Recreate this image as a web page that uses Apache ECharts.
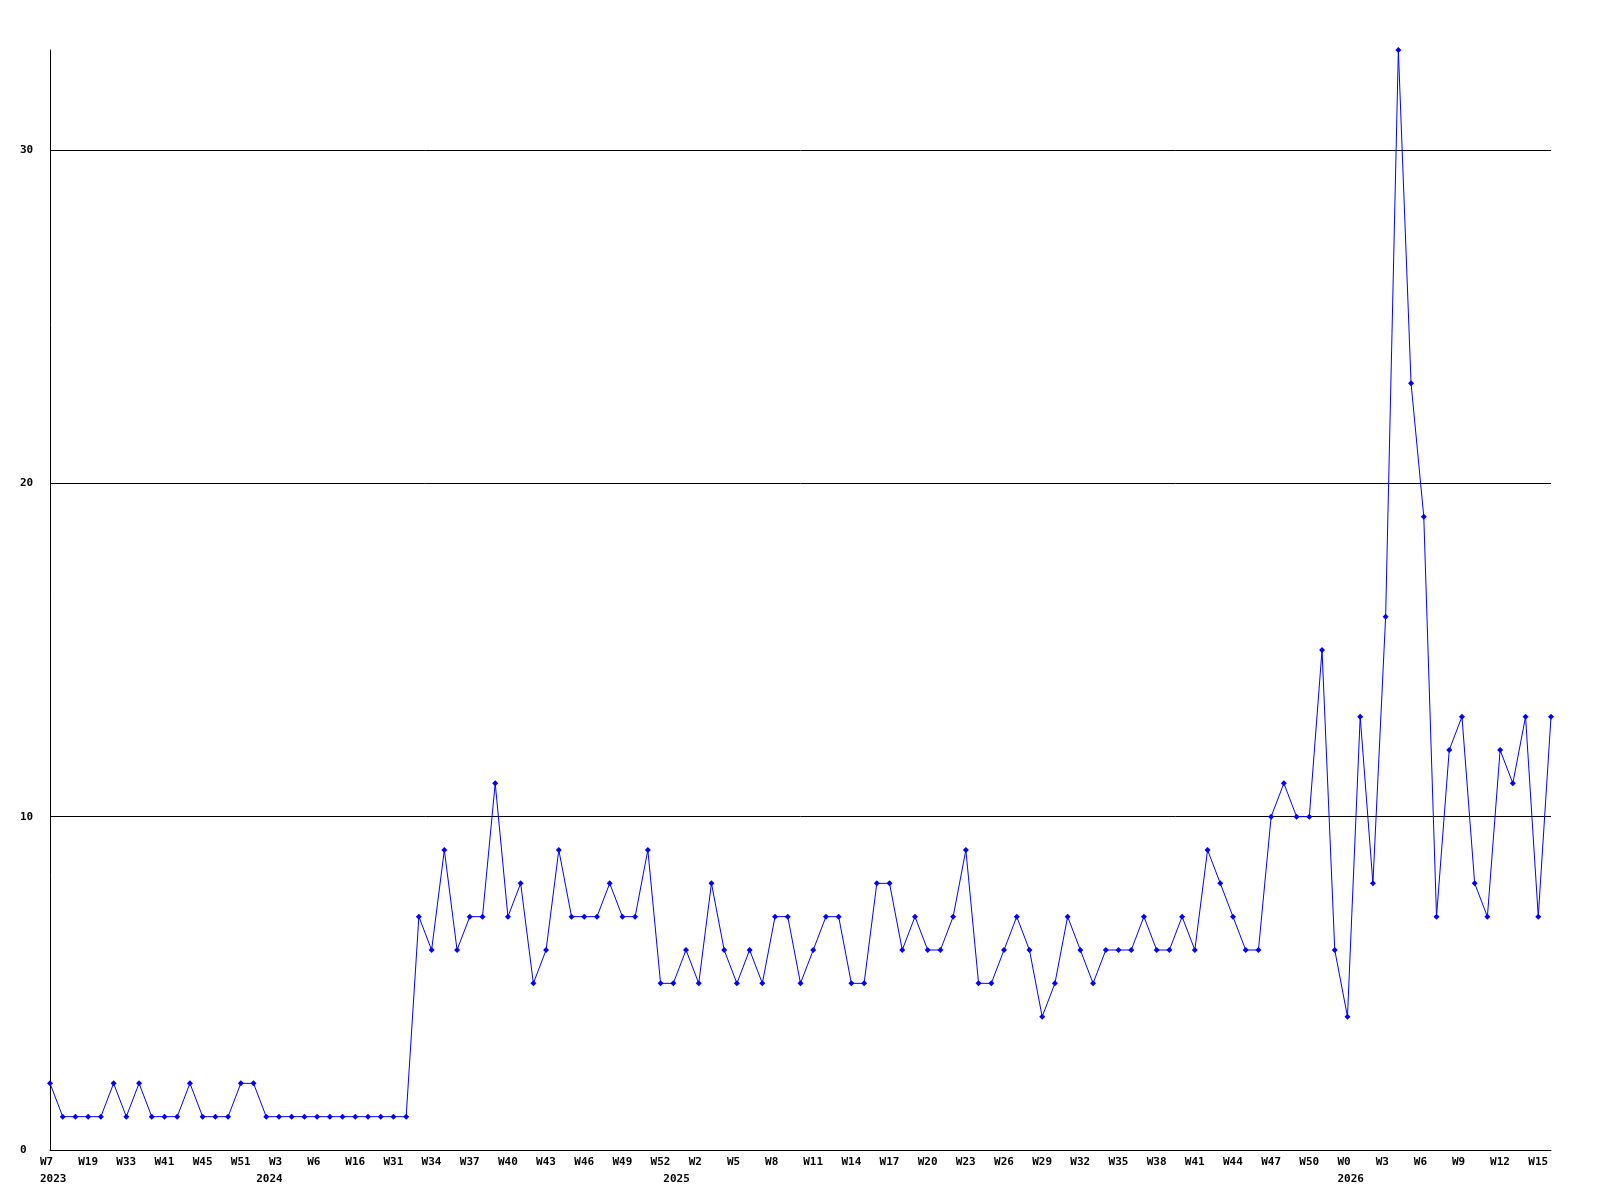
<!DOCTYPE html>
<html>
<head>
<meta charset="utf-8">
<script src="https://cdn.jsdelivr.net/npm/echarts@6/dist/echarts.min.js"></script>
<style>html,body{margin:0;padding:0;background:#fff}#c{width:1600px;height:1200px}</style>
</head>
<body>
<div id="c"></div>
<script>
// Week label of each data point
var weeks = [
  'W7','W10','W14','W19','W25','W29','W33','W36','W39','W41','W43','W44','W45','W47','W49','W51','W52',
  'W2','W3','W4','W5','W6','W9','W12','W16','W22','W27','W31','W32','W33','W34','W35','W36','W37','W38','W39','W40',
  'W41','W42','W43','W44','W45','W46','W47','W48','W49','W50','W51','W52',
  'W0','W1','W2','W3','W4','W5','W6','W7','W8','W9','W10','W11','W12','W13','W14','W15','W16','W17','W18','W19',
  'W20','W21','W22','W23','W24','W25','W26','W27','W28','W29','W30','W31','W32','W33','W34','W35','W36','W37',
  'W38','W39','W40','W41','W42','W43','W44','W45','W46','W47','W48','W49','W50','W51','W52',
  'W0','W1','W2','W3','W4','W5','W6','W7','W8','W9','W10','W11','W12','W13','W14','W15','W16'
];
// Index of the first point of each year, and its name
var yearStartIndex = [0, 17, 49, 102];
var yearNames = ['2023', '2024', '2025', '2026'];
// Values
var values = [
  2,1,1,1,1,2,1,2,1,1,1,2,1,1,1,2,2,
  1,1,1,1,1,1,1,1,1,1,1,1,7,6,9,6,7,7,11,
  7,8,5,6,9,7,7,7,8,7,7,9,5,
  5,6,5,8,6,5,6,5,7,7,5,6,7,7,5,5,8,8,6,
  7,6,6,7,9,5,5,6,7,6,4,5,7,6,5,6,6,6,
  7,6,6,7,6,9,8,7,6,6,10,11,10,10,15,6,
  4,13,8,16,33,23,19,7,12,13,8,7,12,11,13,7,13
];
var yTicks = [0, 10, 20, 30];

var font = '"DejaVu Sans Mono", "Liberation Mono", monospace';
var chart = echarts.init(document.getElementById('c'), null, {renderer: 'canvas'});
chart.setOption({
  animation: false,
  backgroundColor: '#ffffff',
  grid: {left: 50, right: 49, top: 50, bottom: 50, containLabel: false},
  xAxis: [{
    type: 'category',
    data: weeks,
    boundaryGap: false,
    position: 'bottom',
    axisLine: {show: true, lineStyle: {color: '#000', width: 1}},
    axisTick: {show: false},
    axisLabel: {
      interval: 2,
      align: 'left',
      padding: [0, 0, 0, -10],
      margin: 7,
      color: '#000',
      fontFamily: font,
      fontWeight: 'bold',
      fontSize: 11
    },
    splitLine: {show: false}
  }, {
    type: 'category',
    data: weeks,
    boundaryGap: false,
    position: 'bottom',
    offset: 17,
    axisLine: {show: false},
    axisTick: {show: false},
    axisLabel: {
      interval: function (idx) { return yearStartIndex.indexOf(idx) >= 0; },
      formatter: function (v, idx) {
        var k = yearStartIndex.indexOf(idx);
        return k >= 0 ? yearNames[k] : '';
      },
      align: 'left',
      padding: [0, 0, 0, -10],
      margin: 7,
      color: '#000',
      fontFamily: font,
      fontWeight: 'bold',
      fontSize: 11
    },
    splitLine: {show: false}
  }],
  yAxis: {
    type: 'value',
    min: 0,
    max: 33,
    interval: 10,
    axisLine: {show: true, lineStyle: {color: '#000', width: 1}},
    axisTick: {show: false},
    axisLabel: {
      showMaxLabel: false,
      align: 'left',
      margin: 30,
      color: '#000',
      fontFamily: font,
      fontWeight: 'bold',
      fontSize: 11,
      formatter: function (v) { return yTicks.indexOf(v) >= 0 ? String(v) : ''; }
    },
    splitLine: {show: true, showMaxLine: false, lineStyle: {color: '#000', width: 1}}
  },
  series: [{
    type: 'line',
    data: values,
    xAxisIndex: 0,
    color: '#0000ff',
    lineStyle: {color: '#0000ff', width: 1},
    itemStyle: {color: '#0000ff'},
    symbol: 'diamond',
    symbolSize: 6,
    showAllSymbol: true,
    silent: true
  }]
});
</script>
</body>
</html>
